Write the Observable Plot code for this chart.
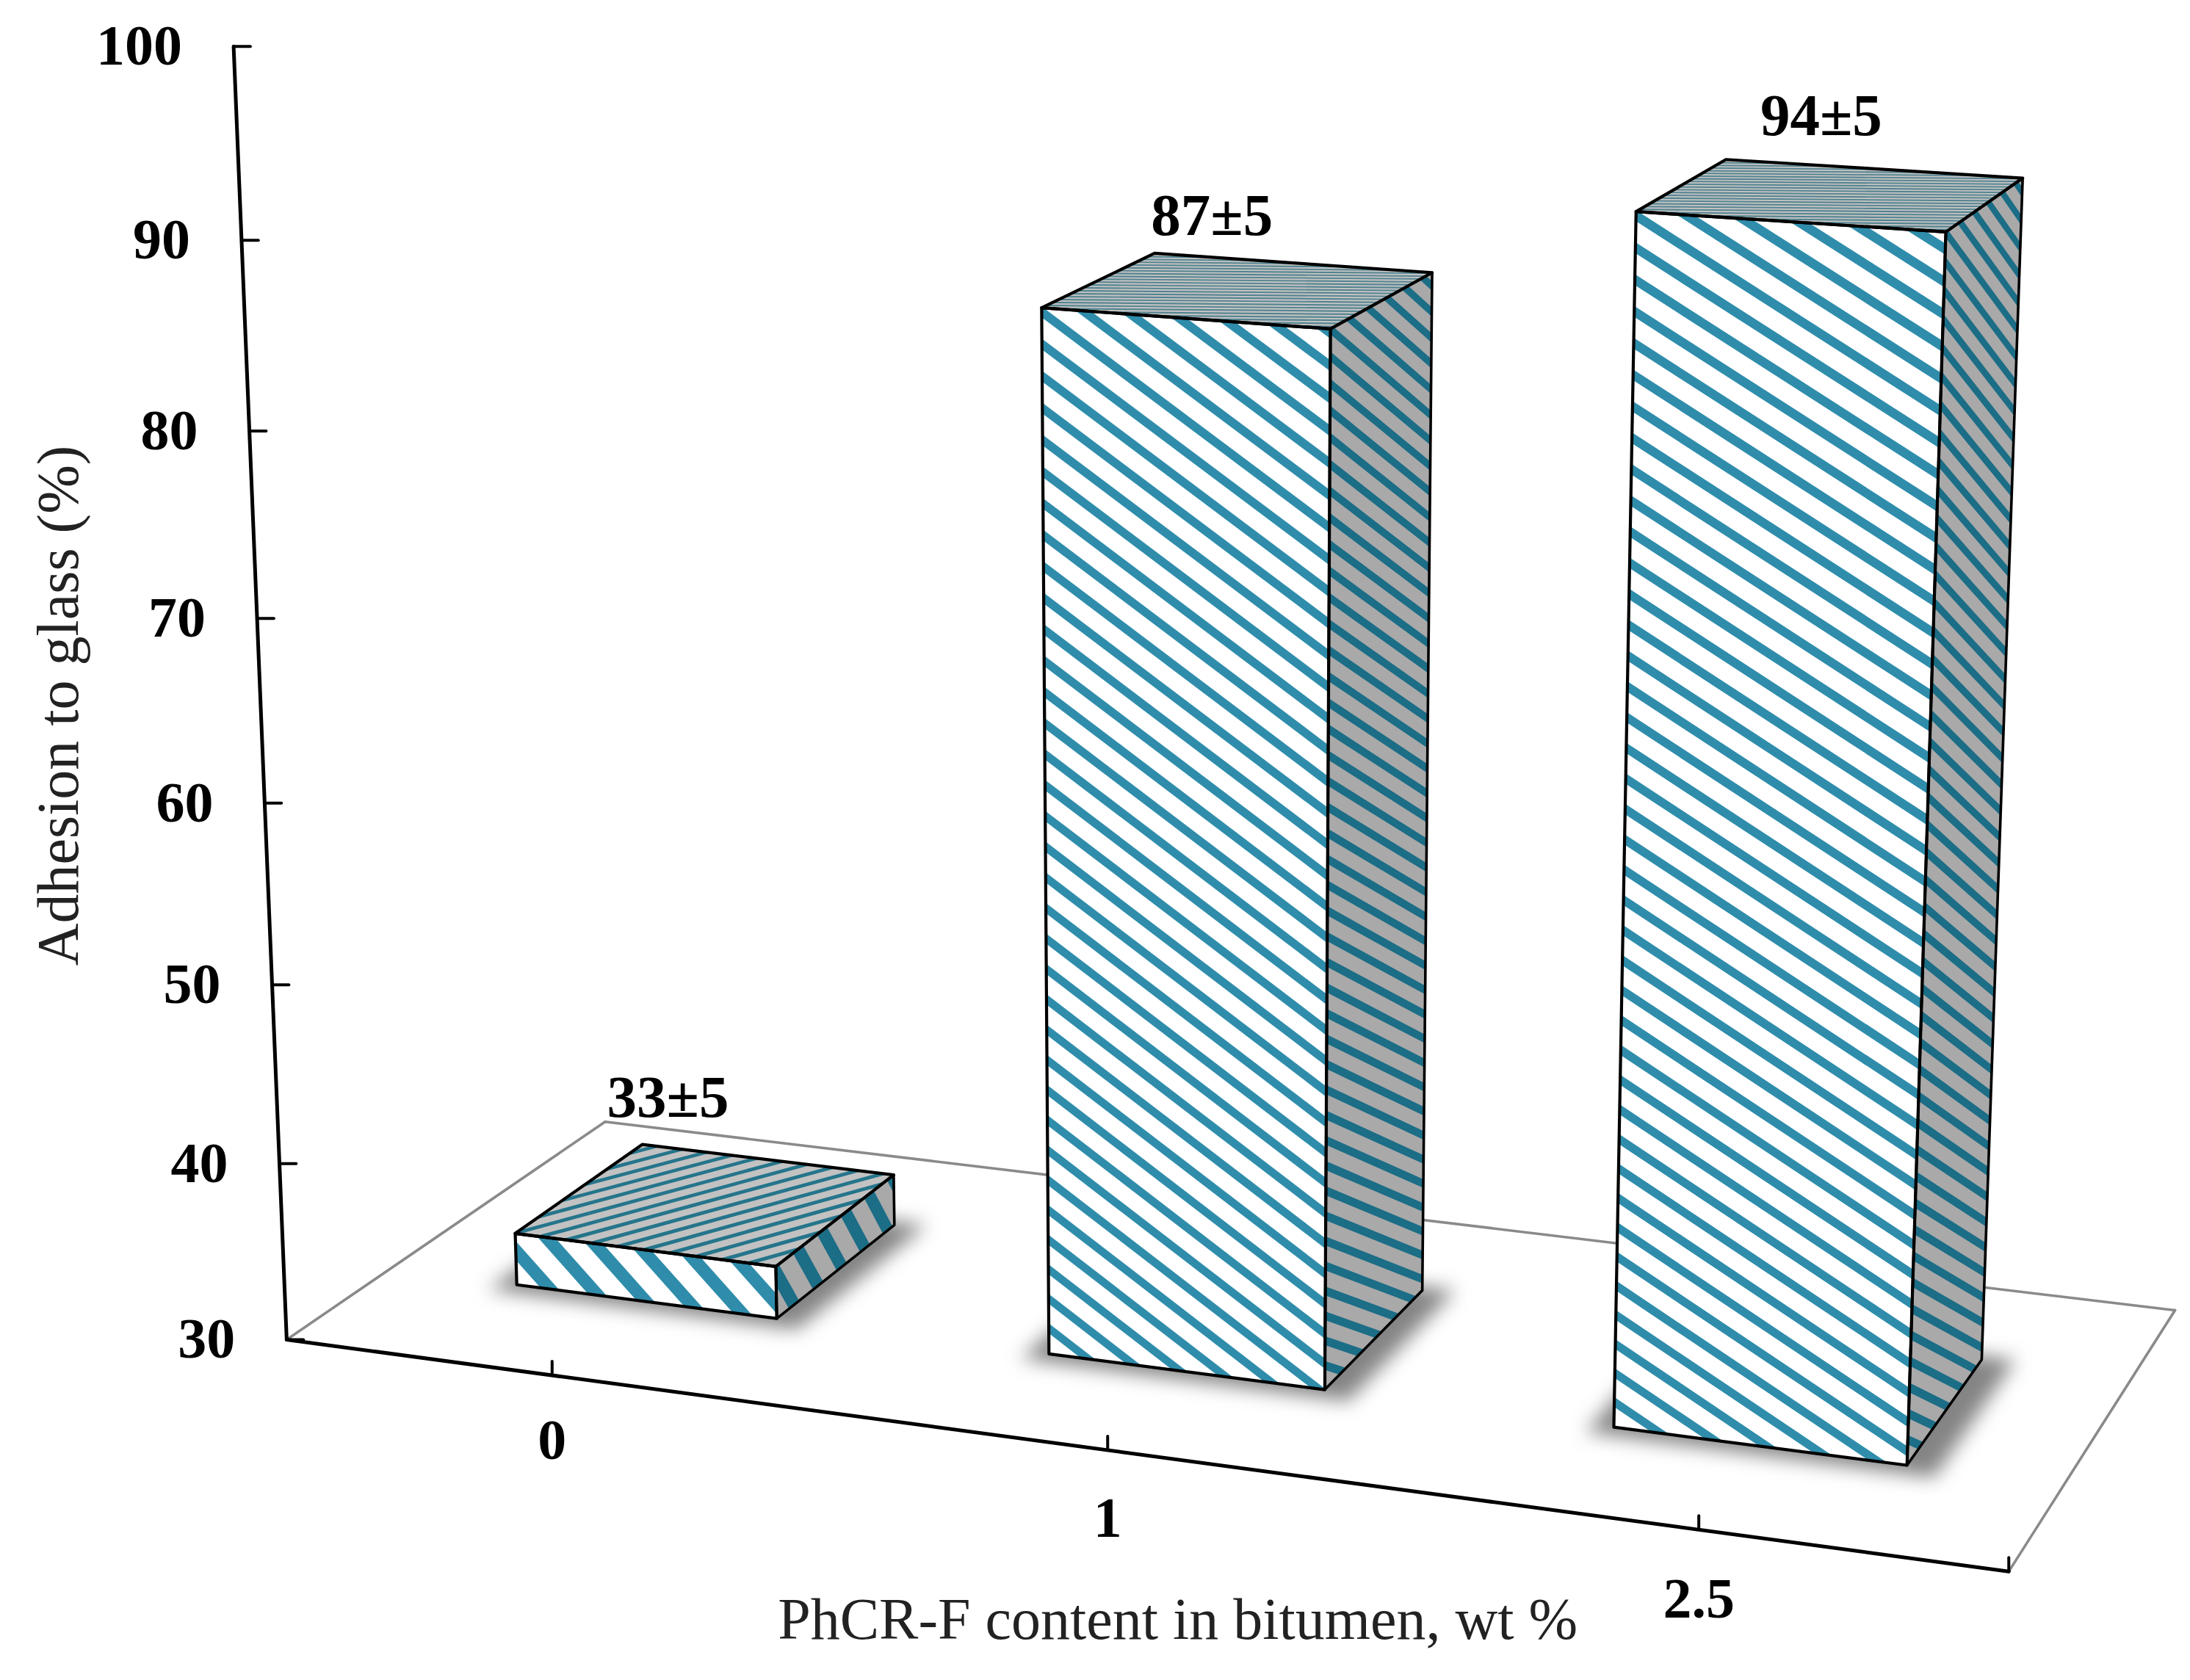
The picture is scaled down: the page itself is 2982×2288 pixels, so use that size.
<!DOCTYPE html>
<html><head><meta charset="utf-8">
<script src="https://cdn.jsdelivr.net/npm/d3@7"></script>
<script src="https://cdn.jsdelivr.net/npm/@observablehq/plot@0.6"></script>
<style>html,body{margin:0;padding:0;background:#fff}svg{display:block}</style>
</head><body><div id="chart"></div>
<script>
// ---- chart values
const categories = ["0", "1", "2.5"];
const values = [33, 87, 94];
const errors = [5, 5, 5];
const yTicks = [30, 40, 50, 60, 70, 80, 90, 100];
const xTitle = "PhCR-F content in bitumen, wt %";
const yTitle = "Adhesion to glass (%)";
const yMin = 30, yMax = 100;

// ---- camera calibration of the pseudo-3D box (units of the x/y plot scales)
const W = 1568, H = 1203;
const floorQuad = [[205,959],[1438,1125],[1557,938],[433,803]];
const axisTop = [167,33];
const zPersp = -0.0546;
const cam = (() => {
  const [[x0,y0],[x1,y1],[x2,y2],[x3,y3]] = floorQuad;
  const dx1=x1-x2,dx2=x3-x2,dx3=x0-x1+x2-x3,dy1=y1-y2,dy2=y3-y2,dy3=y0-y1+y2-y3;
  const den=dx1*dy2-dx2*dy1;
  const g=(dx3*dy2-dx2*dy3)/den,h=(dx1*dy3-dx3*dy1)/den;
  return {a:x1-x0+g*x1,b:x3-x0+h*x3,c:axisTop[0]*(1+zPersp)-x0,d:x0,
          e:y1-y0+g*y1,f:y3-y0+h*y3,i:axisTop[1]*(1+zPersp)-y0,j:y0,g,h,r:zPersp};
})();
const P = (u,v,z) => {
  const w=cam.g*u+cam.h*v+cam.r*z+1;
  return [(cam.a*u+cam.b*v+cam.c*z+cam.d)/w,(cam.e*u+cam.f*v+cam.i*z+cam.j)/w];
};
const Z = val => (val-yMin)/(yMax-yMin);

// ---- bar geometry and appearance
const tickU = i => (i+0.5)/categories.length;
const barLeft = 0.0848, barRight = 0.0805, vFront = 0.305, vBack = 0.718;
const teal = "#25758b", tealSoft = "#4f828f";
const faceStyle = [
 {front:[5.4,1.05,0.4,0.55], side:[5,0.8,0.42,0.3], top:[10,5.6,0.36,0.2], topFill:teal, labelOff:[-28,-76]},
 {front:[6.0,34,0.34,0.3], side:[5.5,41,0.36,0.2], top:[6,19,0.48,0], topFill:tealSoft, labelOff:[-20,-53]},
 {front:[5.4,40,0.34,0.3], side:[5.5,45,0.36,0.2], top:[6,19,0.48,0], topFill:tealSoft, labelOff:[-8,-56]}
];
const xLabelOff = [47,49,50];
const clipHalf = (poly,fn) => {
  const out=[];
  poly.forEach((p,k)=>{const q=poly[(k+1)%poly.length],fp=fn(p),fq=fn(q);
    if(fp>=0)out.push(p);
    if((fp>=0)!==(fq>=0)){const t=fp/(fp-fq);out.push([p[0]+t*(q[0]-p[0]),p[1]+t*(q[1]-p[1])]);}});
  return out;
};
let pid=0;
const stripes=(map,[ws,ht,thick,phase])=>{
  const rows=[];
  for(let k=Math.floor(-ht)-1;k<=Math.ceil(ws)+1;k++){
    const f=([s,t])=>s*ws-t*ht+phase-k;
    let poly=clipHalf([[0,0],[1,0],[1,1],[0,1]],f);
    if(poly.length) poly=clipHalf(poly,p=>thick-f(p));
    if(poly.length>2){const id=pid++;poly.forEach(p=>{const[x,y]=map(p[0],p[1]);rows.push({x,y,id});});}
  }
  return rows;
};
const quad=map=>[[0,0],[1,0],[1,1],[0,1]].map(([s,t])=>{const[x,y]=map(s,t);return{x,y};});
const poly=(rows,o)=>Plot.line(rows,{x:"x",y:"y",curve:"linear-closed",stroke:"none",...o});

const bars=categories.map((c,i)=>{
  const u0=tickU(i)-barLeft,u1=tickU(i)+barRight,zt=Z(values[i]);
  return {i,u0,u1,zt,
    front:(s,t)=>P(u0+s*(u1-u0),vFront,zt*(1-t)),
    side:(s,t)=>P(u1,vFront+s*(vBack-vFront),zt*(1-t)),
    top:(s,t)=>P(u0+s*(u1-u0),vFront+t*(vBack-vFront),zt),
    shadow:(s,t)=>P(u0-0.012+s*(u1-u0+0.03),vFront-0.03+t*(vBack-vFront+0.045),0)};
});

const barMarks=bars.flatMap(b=>{
  const st=faceStyle[b.i];
  return [
    poly(quad(b.shadow),{fill:"#555",imageFilter:"blur(13px)",fillOpacity:0.72}),
    poly(quad(b.front),{fill:"#fff"}),
    poly(stripes(b.front,st.front),{z:"id",fill:"#2f8dab"}),
    poly(quad(b.side),{fill:"#a9a9a9"}),
    poly(stripes(b.side,st.side),{z:"id",fill:"#1c6d86"}),
    poly(quad(b.top),{fill:"#c2c2c2"}),
    poly(stripes(b.top,st.top),{z:"id",fill:st.topFill}),
    poly(quad(b.front),{fill:"none",stroke:"#000",strokeWidth:4.2,strokeLinejoin:"round"}),
    poly(quad(b.side),{fill:"none",stroke:"#000",strokeWidth:3.6,strokeLinejoin:"round"}),
    poly(quad(b.top),{fill:"none",stroke:"#000",strokeWidth:4.2,strokeLinejoin:"round"})
  ];
});

const seg=(a,b)=>[{x:a[0],y:a[1]},{x:b[0],y:b[1]}];
const serif="'Liberation Serif','Times New Roman',serif";
const [A,B,C,D]=[P(0,0,0),P(1,0,0),P(1,1,0),P(0,1,0)];
const axisLine=(a,b,o)=>Plot.line(seg(a,b),{x:"x",y:"y",stroke:"#000",strokeWidth:5,...o});

const yAxisRows=yTicks.map(t=>{const[x,y]=P(0,0,Z(t));return{t,x,y};});
const xAxisRows=categories.map((c,i)=>{const[x,y]=P(tickU(i),0,0);return{c,x,y,ly:y+xLabelOff[i]};});

const plot=Plot.plot({
  width:2982,height:2288,margin:0,
  x:{domain:[0,W],range:[0,2982],axis:null},
  y:{domain:[0,H],range:[0,2288],axis:null},
  style:{background:"#fff",filter:"blur(0.7px)"},
  marks:[
    axisLine(A,D,{stroke:"#8a8a8a",strokeWidth:3.6}),
    axisLine(D,C,{stroke:"#8a8a8a",strokeWidth:3.6}),
    axisLine(C,B,{stroke:"#8a8a8a",strokeWidth:3.6}),
    ...barMarks,
    axisLine(A,P(0,0,1)),
    axisLine(A,B),
    ...yAxisRows.map(r=>axisLine([r.x,r.y],[r.x+12,r.y],{strokeWidth:4})),
    ...xAxisRows.map(r=>axisLine([r.x,r.y],[r.x,r.y-10],{strokeWidth:4})),
    axisLine(B,[B[0],B[1]-10],{strokeWidth:4}),
    Plot.text(yAxisRows,{x:"x",y:"y",text:d=>String(d.t),dx:-70,textAnchor:"end",lineAnchor:"middle",fontFamily:serif,fontWeight:"bold",fontSize:78,fill:"#000"}),
    Plot.text(xAxisRows,{x:"x",y:"ly",text:"c",fontFamily:serif,fontWeight:"bold",fontSize:78,fill:"#000",lineAnchor:"middle"}),
    ...bars.map(b=>{const[x,y]=P((b.u0+b.u1)/2,(vFront+vBack)/2,b.zt);const[ox,oy]=faceStyle[b.i].labelOff;
      return Plot.text([{x:x+ox,y:y+oy,s:`${values[b.i]}±${errors[b.i]}`}],{x:"x",y:"y",text:"s",fontFamily:serif,fontWeight:"bold",fontSize:81,fill:"#000",lineAnchor:"middle"});}),
    Plot.text([{x:843,y:1160}],{x:"x",y:"y",text:()=>xTitle,fontFamily:serif,fontSize:80,fill:"#222",lineAnchor:"middle"}),
    Plot.text([{x:42,y:505}],{x:"x",y:"y",text:()=>yTitle,rotate:-90,fontFamily:serif,fontSize:80,fill:"#222",lineAnchor:"middle"})
  ]
});
document.getElementById("chart").append(plot);
</script></body></html>
